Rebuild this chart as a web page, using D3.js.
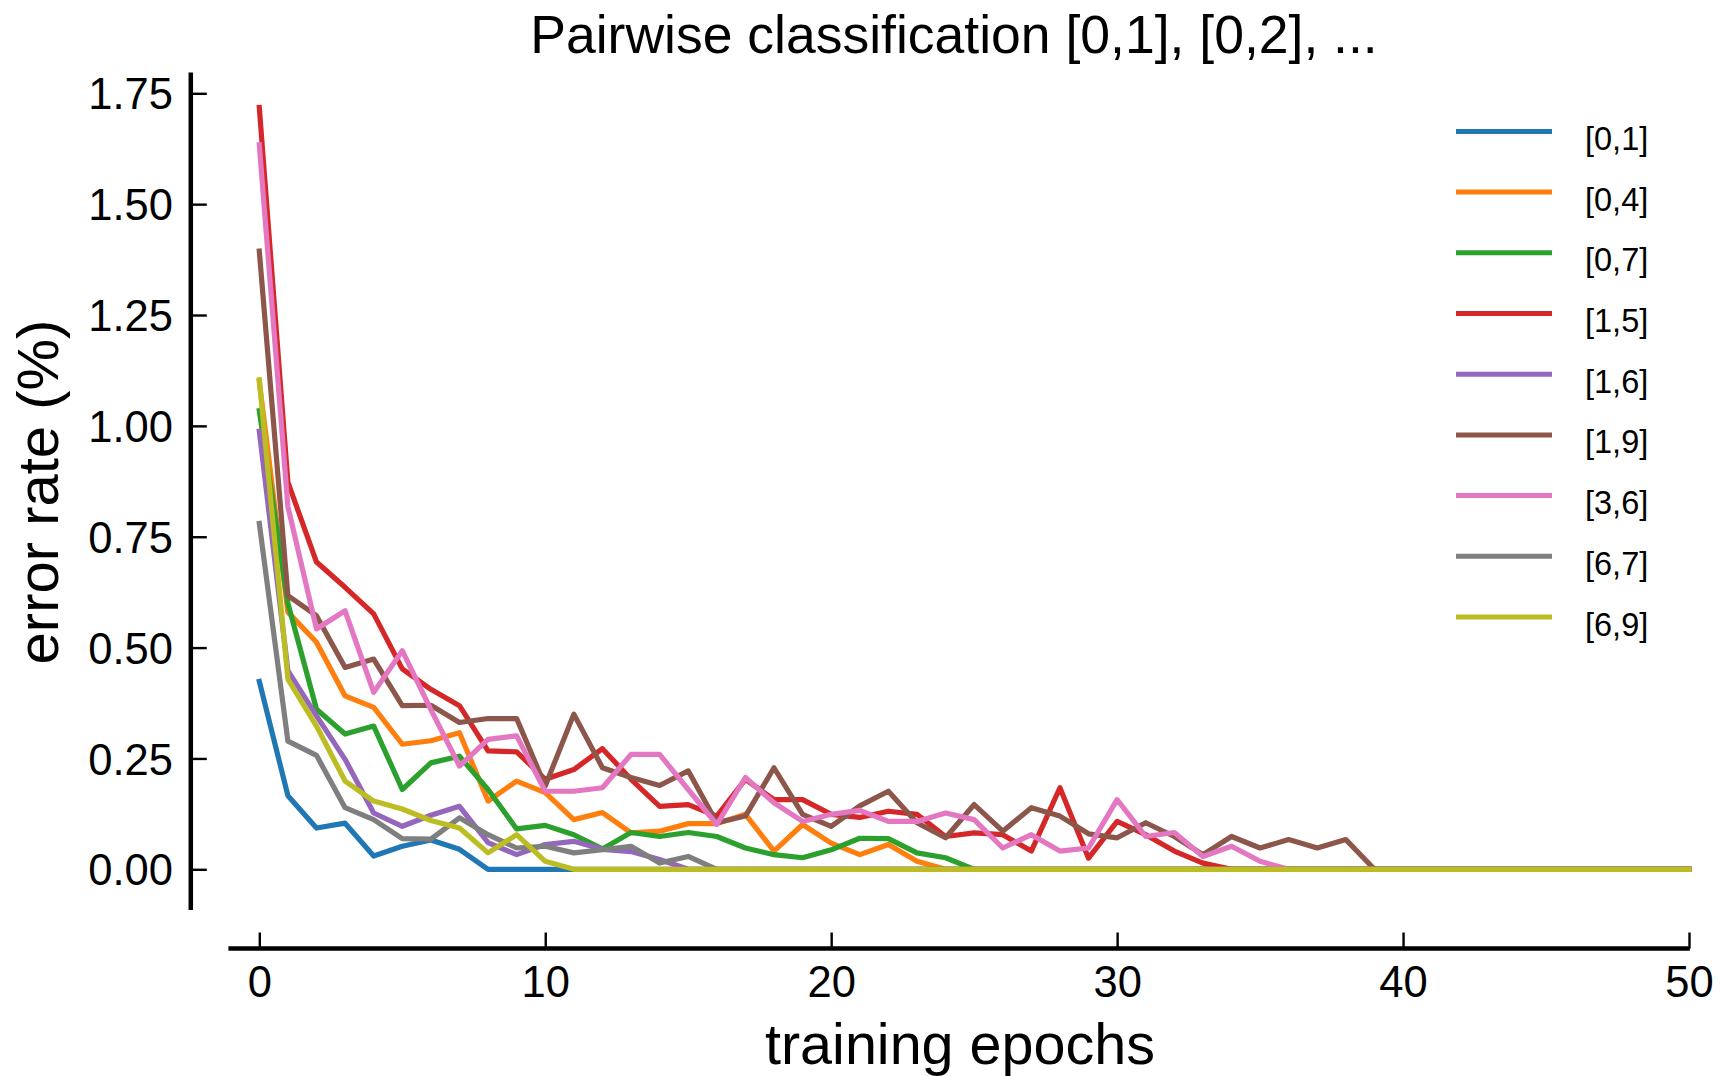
<!DOCTYPE html>
<html>
<head>
<meta charset="utf-8">
<script src="https://cdn.jsdelivr.net/npm/d3@7/dist/d3.min.js"></script>
<style>
  html, body { margin: 0; padding: 0; background: #ffffff; }
  svg { display: block; }
  text { font-family: "Liberation Sans", Arial, Helvetica, sans-serif; fill: #000; }
</style>
</head>
<body>
<svg id="chart" width="1725" height="1076"></svg>
<script>
// ---------------- data ----------------
const epochs = [0,1,2,3,4,5,6,7,8,9,10,11,12,13,14,15,16,17,18,19,20,21,22,23,24,25,26,27,28,29,30,31,32,33,34,35,36,37,38,39,40,41,42,43,44,45,46,47,48,49,50];

const seriesNames = ["[0,1]", "[0,4]", "[0,7]", "[1,5]", "[1,6]", "[1,9]", "[3,6]", "[6,7]", "[6,9]"];
const seriesColors = ["#1f77b4", "#ff7f0e", "#2ca02c", "#d62728", "#9467bd", "#8c564b", "#e377c2", "#7f7f7f", "#bcbd22"];

const s01 = [0.424,0.166,0.093,0.104,0.030,0.052,0.066,0.045,0,0,
             0,0,0,0,0,0,0,0,0,0,
             0,0,0,0,0,0,0,0,0,0,
             0,0,0,0,0,0,0,0,0,0,
             0,0,0,0,0,0,0,0,0,0,
             0];
const s04 = [1.100,0.580,0.512,0.391,0.365,0.282,0.290,0.308,0.154,0.199,
             0.173,0.112,0.128,0.082,0.086,0.103,0.103,0.124,0.041,0.101,
             0.059,0.033,0.056,0.018,0,0,0,0,0,0,
             0,0,0,0,0,0,0,0,0,0,
             0,0,0,0,0,0,0,0,0,0,
             0];
const s07 = [1.034,0.600,0.361,0.305,0.323,0.180,0.240,0.255,0.180,0.091,
             0.099,0.078,0.046,0.083,0.074,0.083,0.074,0.048,0.033,0.026,
             0.044,0.070,0.069,0.037,0.026,0,0,0,0,0,
             0,0,0,0,0,0,0,0,0,0,
             0,0,0,0,0,0,0,0,0,0,
             0];
const s15 = [1.718,0.873,0.693,0.636,0.576,0.452,0.406,0.369,0.267,0.265,
             0.203,0.225,0.272,0.203,0.142,0.146,0.120,0.203,0.157,0.157,
             0.124,0.117,0.131,0.124,0.074,0.082,0.078,0.041,0.184,0.025,
             0.108,0.078,0.041,0.014,0,0,0,0,0,0,
             0,0,0,0,0,0,0,0,0,0,
             0];
const s16 = [0.988,0.448,0.346,0.248,0.127,0.097,0.122,0.142,0.060,0.033,
             0.056,0.063,0.045,0.040,0.022,0,0,0,0,0,
             0,0,0,0,0,0,0,0,0,0,
             0,0,0,0,0,0,0,0,0,0,
             0,0,0,0,0,0,0,0,0,0,
             0];
const s19 = [1.394,0.617,0.572,0.455,0.474,0.369,0.370,0.331,0.340,0.340,
             0.188,0.350,0.229,0.207,0.189,0.222,0.105,0.120,0.229,0.124,
             0.097,0.143,0.176,0.105,0.071,0.146,0.086,0.139,0.120,0.080,
             0.071,0.105,0.074,0.033,0.074,0.048,0.067,0.048,0.067,0,
             0,0,0,0,0,0,0,0,0,0,
             0];
const s36 = [1.634,0.818,0.542,0.583,0.399,0.493,0.360,0.233,0.293,0.301,
             0.176,0.176,0.184,0.259,0.259,0.180,0.101,0.207,0.150,0.108,
             0.124,0.133,0.108,0.108,0.127,0.112,0.048,0.078,0.041,0.048,
             0.157,0.074,0.083,0.029,0.052,0.018,0,0,0,0,
             0,0,0,0,0,0,0,0,0,0,
             0];
const s67 = [0.780,0.289,0.257,0.139,0.112,0.069,0.068,0.116,0.078,0.048,
             0.052,0.037,0.044,0.052,0.014,0.029,0,0,0,0,
             0,0,0,0,0,0,0,0,0,0,
             0,0,0,0,0,0,0,0,0,0,
             0,0,0,0,0,0,0,0,0,0,
             0];
const s69 = [1.104,0.429,0.323,0.199,0.154,0.136,0.110,0.093,0.037,0.078,
             0.018,0,0,0,0,0,0,0,0,0,
             0,0,0,0,0,0,0,0,0,0,
             0,0,0,0,0,0,0,0,0,0,
             0,0,0,0,0,0,0,0,0,0,
             0];

const seriesValues = [s01, s04, s07, s15, s16, s19, s36, s67, s69];

const xTicks = [0, 10, 20, 30, 40, 50];
const yTicks = [0, 0.25, 0.5, 0.75, 1.0, 1.25, 1.5, 1.75];

const titleText = "Pairwise classification [0,1], [0,2], ...";
const xLabel = "training epochs";
const yLabel = "error rate (%)";

// ---------------- layout ----------------
const svg = d3.select("#chart");
svg.append("rect").attr("width", 1725).attr("height", 1076).attr("fill", "#ffffff");

const x = d3.scaleLinear().domain([0, 50]).range([259.3, 1689]);
const y = d3.scaleLinear().domain([0, 1.75]).range([869.3, 93.3]);

const xSpineDomain = [-1.08, 50.03];
const ySpineDomain = [-0.092, 1.797];
const leftSpineX = 190.8;
const bottomSpineY = 948.5;

// left axis
const gy = svg.append("g").attr("transform", `translate(${leftSpineX},0)`)
  .call(d3.axisLeft(y).tickValues(yTicks).tickSize(-16).tickPadding(17.8).tickFormat(d3.format(".2f")));
gy.select(".domain").remove();
gy.selectAll(".tick line").attr("stroke", "#000").attr("stroke-width", 2.4);
gy.selectAll(".tick text").attr("font-size", 43.5).attr("dy", "0.36em")
  .style("font-family", '"Liberation Sans", Arial, sans-serif');
svg.append("line")
  .attr("x1", leftSpineX).attr("x2", leftSpineX)
  .attr("y1", y(ySpineDomain[0])).attr("y2", y(ySpineDomain[1]))
  .attr("stroke", "#000").attr("stroke-width", 4.5);

// bottom axis
const gx = svg.append("g").attr("transform", `translate(0,${bottomSpineY})`)
  .call(d3.axisBottom(x).tickValues(xTicks).tickSize(-16).tickPadding(18.0).tickFormat(d3.format("d")));
gx.select(".domain").remove();
gx.selectAll(".tick line").attr("stroke", "#000").attr("stroke-width", 2.4);
gx.selectAll(".tick text").attr("font-size", 43.5)
  .style("font-family", '"Liberation Sans", Arial, sans-serif');
svg.append("line")
  .attr("x1", x(xSpineDomain[0])).attr("x2", x(xSpineDomain[1]))
  .attr("y1", bottomSpineY).attr("y2", bottomSpineY)
  .attr("stroke", "#000").attr("stroke-width", 4.5);

// lines
const line = d3.line().x((d, i) => x(epochs[i])).y(d => y(d));
seriesValues.forEach((vals, k) => {
  svg.append("path")
    .datum(vals)
    .attr("d", line)
    .attr("fill", "none")
    .attr("stroke", seriesColors[k])
    .attr("stroke-width", 5.2)
    .attr("stroke-linejoin", "round")
    .attr("stroke-linecap", "square");
});

// title and labels
svg.append("text").attr("x", 954).attr("y", 53).attr("text-anchor", "middle")
  .attr("font-size", 53.5).text(titleText);
svg.append("text").attr("x", 960).attr("y", 1064).attr("text-anchor", "middle")
  .attr("font-size", 57.5).text(xLabel);
svg.append("text").attr("transform", "translate(57.5,492) rotate(-90)")
  .attr("text-anchor", "middle").attr("font-size", 58).text(yLabel);

// legend
const legend = svg.append("g");
seriesNames.forEach((name, k) => {
  const ly = 131.4 + k * 60.7;
  legend.append("line")
    .attr("x1", 1456).attr("x2", 1552).attr("y1", ly).attr("y2", ly)
    .attr("stroke", seriesColors[k]).attr("stroke-width", 5);
  legend.append("text").attr("x", 1585).attr("y", ly + 18.5)
    .attr("font-size", 32.5).text(name);
});
</script>
</body>
</html>
